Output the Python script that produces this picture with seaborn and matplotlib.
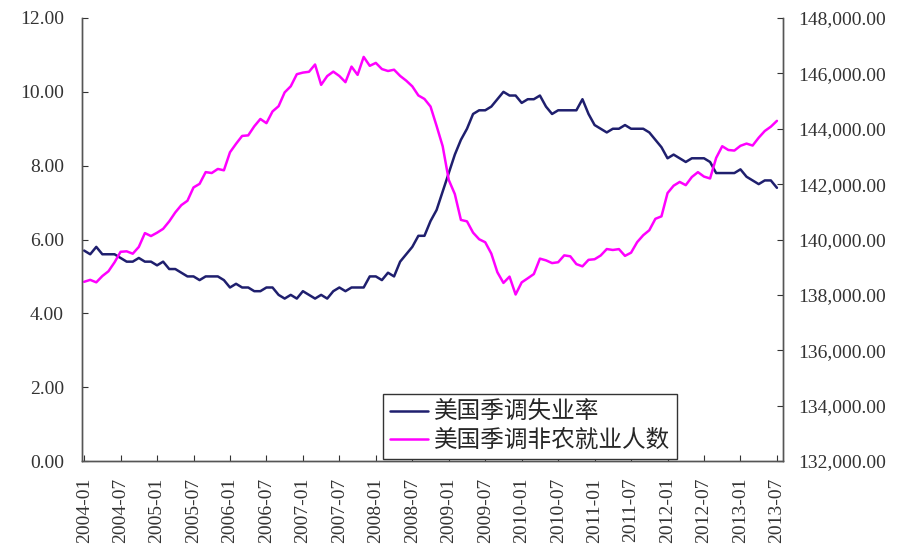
import numpy as np
import pandas as pd
import seaborn as sns
import matplotlib.pyplot as plt
from matplotlib.ticker import FuncFormatter

sns.set_style("white")
plt.rcParams['font.family'] = ['Liberation Serif', 'Noto Sans CJK SC', 'DejaVu Sans']

# monthly, 2004-01 .. 2013-07
months = pd.period_range("2004-01", "2013-07", freq="M").strftime("%Y-%m").tolist()

# 美国季调失业率 (%)
unemp = [
    5.7, 5.6, 5.8, 5.6, 5.6, 5.6, 5.5, 5.4, 5.4, 5.5, 5.4, 5.4,
    5.3, 5.4, 5.2, 5.2, 5.1, 5.0, 5.0, 4.9, 5.0, 5.0, 5.0, 4.9,
    4.7, 4.8, 4.7, 4.7, 4.6, 4.6, 4.7, 4.7, 4.5, 4.4, 4.5, 4.4,
    4.6, 4.5, 4.4, 4.5, 4.4, 4.6, 4.7, 4.6, 4.7, 4.7, 4.7, 5.0,
    5.0, 4.9, 5.1, 5.0, 5.4, 5.6, 5.8, 6.1, 6.1, 6.5, 6.8, 7.3,
    7.8, 8.3, 8.7, 9.0, 9.4, 9.5, 9.5, 9.6, 9.8, 10.0, 9.9, 9.9,
    9.7, 9.8, 9.8, 9.9, 9.6, 9.4, 9.5, 9.5, 9.5, 9.5, 9.8, 9.4,
    9.1, 9.0, 8.9, 9.0, 9.0, 9.1, 9.0, 9.0, 9.0, 8.9, 8.7, 8.5,
    8.2, 8.3, 8.2, 8.1, 8.2, 8.2, 8.2, 8.1, 7.8, 7.8, 7.8, 7.8,
    7.9, 7.7, 7.6, 7.5, 7.6, 7.6, 7.4,
]

# 美国季调非农就业人数 (千人)
employed = [
    138472, 138542, 138453, 138680, 138852, 139174, 139556, 139573, 139487, 139732, 140231, 140125,
    140245, 140385, 140654, 140978, 141242, 141399, 141880, 142010, 142434, 142401, 142548, 142499,
    143150, 143457, 143741, 143761, 144089, 144353, 144202, 144625, 144815, 145314, 145534, 145970,
    146028, 146057, 146320, 145586, 145903, 146063, 145905, 145682, 146244, 145946, 146595, 146273,
    146378, 146156, 146086, 146132, 145908, 145737, 145532, 145203, 145076, 144802, 144100, 143369,
    142152, 141640, 140707, 140656, 140248, 140009, 139901, 139492, 138818, 138432, 138659, 138013,
    138451, 138599, 138752, 139309, 139247, 139148, 139179, 139427, 139393, 139111, 139030, 139266,
    139287, 139422, 139655, 139622, 139653, 139409, 139524, 139904, 140154, 140335, 140747, 140836,
    141677, 141943, 142079, 141963, 142257, 142432, 142272, 142204, 142947, 143369, 143233, 143212,
    143384, 143464, 143393, 143676, 143919, 144075, 144285,
]

labels = ["美国季调失业率", "美国季调非农就业人数"]
x = np.arange(len(months))

fig = plt.figure(figsize=(9.06, 5.52), dpi=100)
ax = fig.add_axes([82 / 906, 1 - 461 / 552, (783 - 82) / 906, (461 - 18) / 552])
ax2 = ax.twinx()

sns.lineplot(x=x, y=unemp, ax=ax, color="#1f1f6e", linewidth=1.8, label=labels[0], legend=False)
sns.lineplot(x=x, y=employed, ax=ax2, color="#ff00ff", linewidth=1.8, label=labels[1], legend=False)

ax.set_xlim(-0.35, 115)
ax.set_ylim(0, 12)
ax.set_yticks(np.arange(0, 12.1, 2))
ax.yaxis.set_major_formatter(FuncFormatter(lambda v, p: f"{v:.2f}"))
ax2.set_ylim(132000, 148000)
ax2.set_yticks(np.arange(132000, 148001, 2000))
ax2.yaxis.set_major_formatter(FuncFormatter(lambda v, p: f"{v:,.2f}"))

ax.set_xticks(x[::6])
ax.set_xticklabels(months[::6], rotation=90)

for a in (ax, ax2):
    a.spines["top"].set_visible(False)
    for s in ("left", "right", "bottom"):
        a.spines[s].set_color("#555555")
        a.spines[s].set_linewidth(1.0)
ax.tick_params(axis="y", direction="in", length=4, pad=13, labelsize=14, colors="#333333", left=True)
ax.tick_params(axis="x", direction="in", length=4, pad=12, labelsize=14, colors="#333333", bottom=True)
ax2.tick_params(axis="y", direction="in", length=4, pad=11, labelsize=14, colors="#333333", right=True)
for t in ax.get_xticklabels() + ax.get_yticklabels() + ax2.get_yticklabels():
    t.set_color("#333333")

h1, l1 = ax.get_legend_handles_labels()
h2, l2 = ax2.get_legend_handles_labels()
leg = fig.legend(h1 + h2, l1 + l2, loc="lower left",
                 bbox_to_anchor=(383 / 906, 1 - 459 / 552), bbox_transform=fig.transFigure,
                 prop={"family": ["Noto Sans CJK SC", "DejaVu Sans"], "size": 17},
                 frameon=True, fancybox=False, framealpha=1, edgecolor="#333333",
                 borderaxespad=0, handlelength=1.6, handletextpad=0.25, labelspacing=0.2,
                 borderpad=0.3)
leg.get_frame().set_linewidth(1.0)

fig.savefig("out.png", dpi=100)
